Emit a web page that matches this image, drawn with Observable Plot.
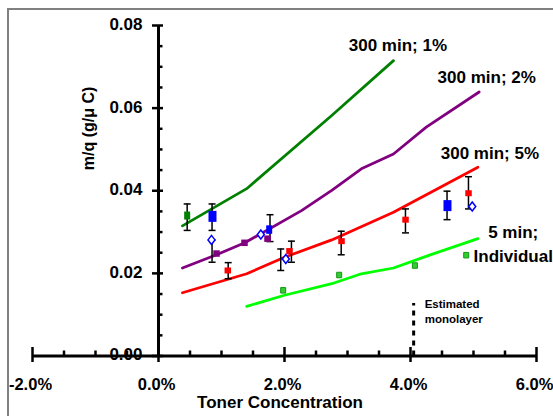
<!DOCTYPE html>
<html><head><meta charset="utf-8">
<script src="https://cdn.jsdelivr.net/npm/d3@7"></script>
<script src="https://cdn.jsdelivr.net/npm/@observablehq/plot@0.6"></script>
<style>
html,body{margin:0;padding:0;background:#fff;}
#wrap{position:relative;width:553px;height:416px;overflow:hidden;}
#border{position:absolute;left:7px;top:8px;width:600px;height:500px;border-top:2px solid #808080;border-left:2px solid #808080;pointer-events:none;}
</style></head><body>
<div id="wrap"><div id="chart"></div><div id="border"></div></div>
<script>
// ---- tick values & labels ----
const xMajor = [-2, 0, 2, 4, 6];
const xTickLabels = ["-2.0%", "0.0%", "2.0%", "4.0%", "6.0%"];
const xMinor = [-1.5, -1, -0.5, 0.5, 1, 1.5, 2.5, 3, 3.5, 4.5, 5, 5.5];
const yMajor = [0, 0.02, 0.04, 0.06, 0.08];
const yTickLabels = ["0.00", "0.02", "0.04", "0.06", "0.08"];
const yMinor = [0.005, 0.01, 0.015, 0.025, 0.03, 0.035, 0.045, 0.05, 0.055, 0.065, 0.07, 0.075];

// ---- model curves (toner concentration %, m/q) ----
const curve1X = [0.38, 1.40, 2.75, 3.73];
const curve1Y = [0.0315, 0.0405, 0.0582, 0.0715];
const curve2X = [0.38, 0.92, 1.37, 2.27, 2.75, 3.22, 3.73, 4.25, 5.09];
const curve2Y = [0.0213, 0.0245, 0.0274, 0.0352, 0.0401, 0.0453, 0.0489, 0.0554, 0.0639];
const curve5X = [0.38, 1.40, 2.00, 2.75, 3.73, 5.07];
const curve5Y = [0.0153, 0.0199, 0.0239, 0.0281, 0.0348, 0.0457];
const curveIndX = [1.40, 2.00, 2.75, 3.22, 3.73, 4.28, 5.07];
const curveIndY = [0.0120, 0.0147, 0.0175, 0.0199, 0.0213, 0.0243, 0.0284];

// ---- measured points ----
const greenX = [0.455];
const greenY = [0.0340];
const blueLargeX = [0.857, 4.587];
const blueLargeY = [0.0338, 0.0364];
const blueSmallX = [1.757];
const blueSmallY = [0.0306];
const diamondX = [0.841, 1.624, 2.021, 4.98];
const diamondY = [0.0281, 0.0294, 0.0235, 0.0362];
const purpleX = [0.921, 1.365, 1.730];
const purpleY = [0.0248, 0.0274, 0.0284];
const redX = [1.10, 2.079, 2.905, 3.921, 4.921];
const redY = [0.0207, 0.0254, 0.0278, 0.0330, 0.0394];
const limeX = [1.979, 2.868, 4.07, 4.884];
const limeY = [0.0159, 0.0196, 0.0219, 0.0244];

// ---- error bars ----
const errX  = [0.455, 0.85, 0.85, 1.106, 1.77, 1.94, 2.11, 2.90, 3.92, 4.58, 4.92];
const errLo = [0.0304, 0.0304, 0.0227, 0.0187, 0.0277, 0.0207, 0.0227, 0.0245, 0.0298, 0.0330, 0.0356];
const errHi = [0.0368, 0.0368, 0.0281, 0.0226, 0.0342, 0.0259, 0.0278, 0.0302, 0.0356, 0.0399, 0.0434];

// ---- annotations ----
const curveLabels = ["300 min; 1%", "300 min; 2%", "300 min; 5%", "5 min;", "Individual"];
const curveLabelX = [3.80, 5.21, 5.26, 5.63, 5.63];
const curveLabelY = [0.0751, 0.0673, 0.0491, 0.0300, 0.0241];
const monolayerX = 4.05;
const monolayerTop = 0.0127;
const monolayerText = "Estimated\nmonolayer";
const xTitle = "Toner Concentration";
const yTitle = "m/q (g/\u03bc C)";
const yTitleAt = [-1.105, 0.0551];

// ---- helpers ----
const pts = (xs, ys) => xs.map((x, i) => ({x, y: ys[i]}));
const rectSym = (w, h) => ({draw(c) { c.rect(-w / 2, -h / 2, w, h); }});
const diamondSym = (w, h) => ({draw(c) { c.moveTo(0, -h / 2); c.lineTo(w / 2, 0); c.lineTo(0, h / 2); c.lineTo(-w / 2, 0); c.closePath(); }});
const segSym = (x1, y1, x2, y2) => ({draw(c) { c.moveTo(x1, y1); c.lineTo(x2, y2); }});
const bold = {fontWeight: "bold"};

const errData = errX.map((x, i) => ({x, lo: errLo[i], hi: errHi[i]}));

const chart = Plot.plot({
  width: 553, height: 416,
  marginLeft: 32, marginRight: 17, marginTop: 25, marginBottom: 60.5,
  x: {domain: [-2, 6], axis: null},
  y: {domain: [0, 0.08], axis: null},
  style: {fontFamily: "'Liberation Sans', Arial, sans-serif", color: "#000", background: "#fff"},
  marks: [
    // axes
    Plot.ruleY([0], {x1: -2, x2: 6, stroke: "#000", strokeWidth: 3}),
    Plot.ruleX([0], {y1: 0, y2: 0.08, stroke: "#000", strokeWidth: 3}),
    Plot.dot(xMajor, {x: d => d, y: () => 0, symbol: segSym(0, -9, 0, 6), stroke: "#000", strokeWidth: 2.5, fill: "none"}),
    Plot.dot(xMinor, {x: d => d, y: () => 0, symbol: segSym(0, -5.5, 0, 0), stroke: "#000", strokeWidth: 2.5, fill: "none"}),
    Plot.dot(yMajor, {x: () => 0, y: d => d, symbol: segSym(-6.5, 0, 4.5, 0), stroke: "#000", strokeWidth: 2.5, fill: "none"}),
    Plot.dot(yMinor, {x: () => 0, y: d => d, symbol: segSym(0, 0, 4, 0), stroke: "#000", strokeWidth: 2.5, fill: "none"}),
    Plot.text(xMajor, {x: d => d, y: () => 0, text: (d, i) => xTickLabels[i], dy: 28.5, dx: -2, fontSize: 16.5, ...bold}),
    Plot.text(yMajor, {x: () => 0, y: d => d, text: (d, i) => yTickLabels[i], textAnchor: "end", dx: -16, dy: -1, fontSize: 17, ...bold}),
    Plot.text([xTitle], {frameAnchor: "bottom", dx: -4.5, dy: 52, fontSize: 17, ...bold}),
    Plot.text([yTitle], {x: () => yTitleAt[0], y: () => yTitleAt[1], rotate: -90, fontSize: 16, ...bold}),
    // monolayer marker
    Plot.ruleX([monolayerX], {y1: 0, y2: monolayerTop, stroke: "#000", strokeWidth: 3, strokeDasharray: "5,5"}),
    Plot.text([monolayerText], {x: () => monolayerX, y: () => monolayerTop, dx: 11, dy: 7.5, textAnchor: "start", lineHeight: 1.3, fontSize: 11.5, ...bold}),
    // model curves
    Plot.line(pts(curve1X, curve1Y), {x: "x", y: "y", stroke: "#008000", strokeWidth: 2.75}),
    Plot.line(pts(curve2X, curve2Y), {x: "x", y: "y", stroke: "#800080", strokeWidth: 2.75}),
    Plot.line(pts(curve5X, curve5Y), {x: "x", y: "y", stroke: "#ff0000", strokeWidth: 2.75}),
    Plot.line(pts(curveIndX, curveIndY), {x: "x", y: "y", stroke: "#00ff00", strokeWidth: 2.75}),
    // error bars
    Plot.ruleX(errData, {x: "x", y1: "lo", y2: "hi", stroke: "#000", strokeWidth: 1.5}),
    Plot.dot(errData, {x: "x", y: "lo", symbol: segSym(-3.5, 0, 3.5, 0), stroke: "#000", strokeWidth: 1.5, fill: "none"}),
    Plot.dot(errData, {x: "x", y: "hi", symbol: segSym(-3.5, 0, 3.5, 0), stroke: "#000", strokeWidth: 1.5, fill: "none"}),
    // markers
    Plot.dot(pts(greenX, greenY), {x: "x", y: "y", symbol: rectSym(6, 8), fill: "#008000", stroke: "none"}),
    Plot.dot(pts(purpleX, purpleY), {x: "x", y: "y", symbol: rectSym(6.5, 6.5), fill: "#800080", stroke: "none"}),
    Plot.dot(pts(redX, redY), {x: "x", y: "y", symbol: rectSym(6.5, 6), fill: "#ff0000", stroke: "none"}),
    Plot.dot(pts(limeX, limeY), {x: "x", y: "y", symbol: rectSym(5, 5.5), fill: "#33cc33", stroke: "#119911", strokeWidth: 1}),
    Plot.dot(pts(blueLargeX, blueLargeY), {x: "x", y: "y", symbol: rectSym(8, 11), fill: "#0000ff", stroke: "none"}),
    Plot.dot(pts(blueSmallX, blueSmallY), {x: "x", y: "y", symbol: rectSym(6, 8.5), fill: "#0000ff", stroke: "none"}),
    Plot.dot(pts(diamondX, diamondY), {x: "x", y: "y", symbol: diamondSym(7, 9), fill: "#fff", stroke: "#0000ff", strokeWidth: 1.5}),
    // curve labels
    Plot.text(curveLabels, {x: (d, i) => curveLabelX[i], y: (d, i) => curveLabelY[i], text: d => d, fontSize: 17, ...bold})
  ]
});
document.getElementById("chart").appendChild(chart);
</script>
</body></html>
